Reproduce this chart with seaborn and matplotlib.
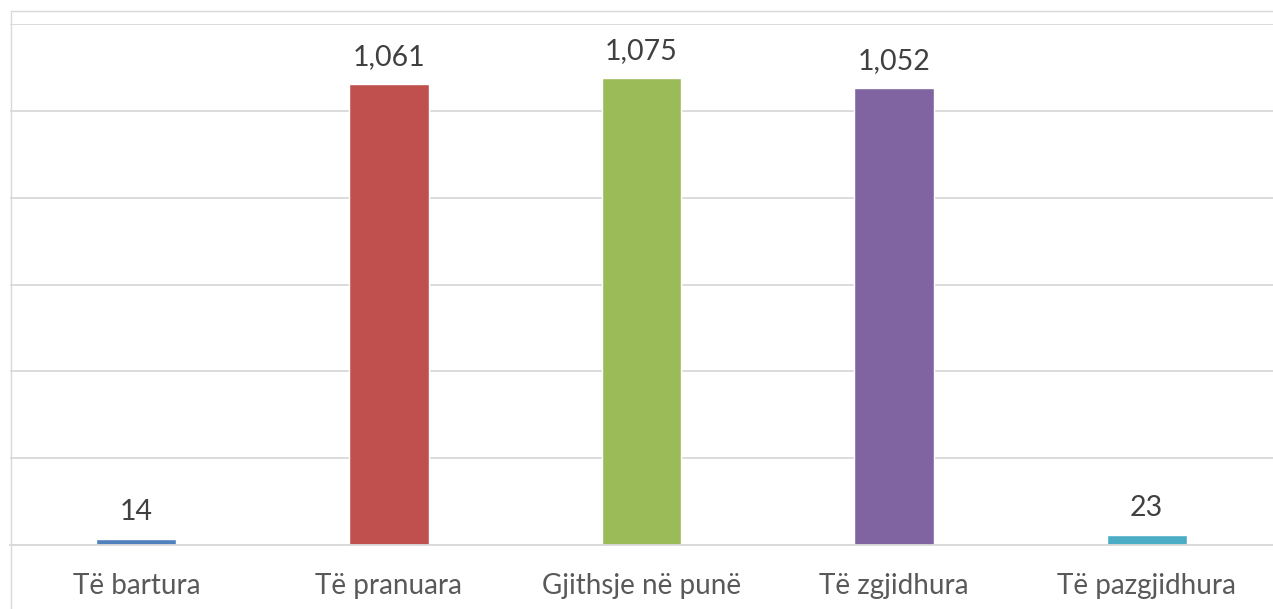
import pandas as pd
import matplotlib.pyplot as plt
import seaborn as sns
from matplotlib.lines import Line2D

# values
categories = ['Të bartura', 'Të pranuara', 'Gjithsje në punë', 'Të zgjidhura', 'Të pazgjidhura']
values = [14, 1061, 1075, 1052, 23]
colors = ['#4F81BD', '#C0504D', '#9BBB59', '#8064A2', '#4BACC6']


def plot_cases(df: pd.DataFrame) -> None:
    sns.set_style('white')
    plt.rcParams['font.family'] = ['Lato', 'DejaVu Sans']
    fig = plt.figure(figsize=(12.73, 6.09), dpi=100)
    ax = fig.add_axes([10 / 1273, 64 / 609, 1263 / 1273, 521 / 609])
    sns.barplot(data=df, x='category', y='value', hue='category',
                palette=colors, saturation=1, width=0.316, legend=False, ax=ax)
    ax.set_xlim(-0.5, 4.5)
    ax.set_ylim(0, 1200)
    ax.set_yticks(range(0, 1201, 200))
    ax.yaxis.grid(True, color='#D9D9D9', linewidth=1.3)
    ax.set_axisbelow(True)
    ax.set_yticklabels([])
    ax.tick_params(left=False, bottom=False, length=0)
    ax.tick_params(axis='x', labelsize=20, labelcolor='#595959', pad=20)
    for side in ['top', 'right', 'left']:
        ax.spines[side].set_visible(False)
    ax.spines['bottom'].set_color('#D9D9D9')
    ax.spines['bottom'].set_linewidth(1.3)
    ax.set_xlabel('')
    ax.set_ylabel('')
    for cont in ax.containers:
        ax.bar_label(cont, fmt='{:,.0f}', padding=10, fontsize=20.5, color='#404040')
    # outer chart border (left and top)
    fig.add_artist(Line2D([11 / 1273, 11 / 1273], [0, 1 - 11 / 609],
                          transform=fig.transFigure, color='#D9D9D9', linewidth=1))
    fig.add_artist(Line2D([11 / 1273, 1], [1 - 11 / 609, 1 - 11 / 609],
                          transform=fig.transFigure, color='#D9D9D9', linewidth=1))
    fig.savefig('out.png', dpi=100, facecolor='white')


def main() -> None:
    df = pd.DataFrame({'category': categories, 'value': values})
    plot_cases(df)


if __name__ == '__main__':
    main()
